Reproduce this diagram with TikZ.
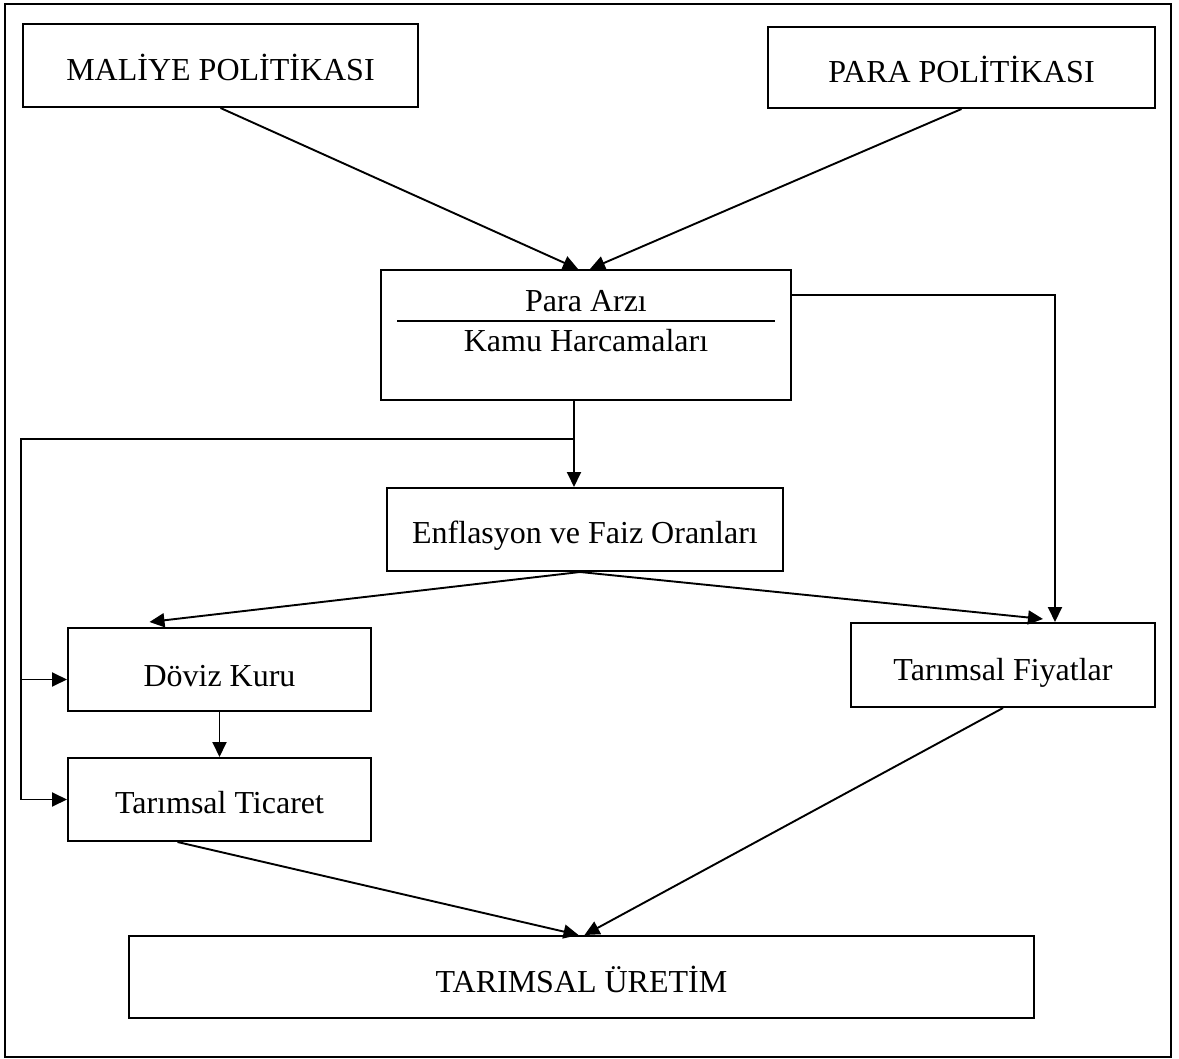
\documentclass[tikz,border=0pt]{standalone}
\usepackage{fontspec}
\setmainfont{Liberation Serif}
\usetikzlibrary{arrows.meta}
\begin{document}
\begin{tikzpicture}[x=1pt,y=-1pt,
  box/.style={draw, line width=2pt, rectangle, inner sep=0pt, text height=30pt, text depth=0pt, font=\fontsize{32}{38}\selectfont},
  lbl/.style={inner sep=0pt, font=\fontsize{32}{38}\selectfont},
  conn/.style={line width=1.9pt},
  arr/.style={conn, -{Triangle[length=15pt,width=14pt]}}]
\useasboundingbox (0,0) rectangle (1179,1059);
\draw[line width=2.5pt] (5,4) rectangle (1171,1057);
% boxes
\node[box, text height=31pt, minimum width=395pt, minimum height=83pt] (mp) at (220.5,65.5) {MAL\.IYE POL\.IT\.IKASI};
\node[box, minimum width=387pt, minimum height=81pt] (pp) at (961.5,67.5) {PARA POL\.IT\.IKASI};
\node[box, minimum width=410pt, minimum height=130pt] (pa) at (586,335) {};
\node[lbl, anchor=base] (pat) at (586,312) {Para Arzı};
\node[lbl, anchor=base] (kht) at (586,352) {Kamu Harcamaları};
\draw[line width=2pt] (397,321) -- (775,321);
\node[box, text height=27pt, minimum width=396pt, minimum height=83pt] (enf) at (585,529.5) {Enflasyon ve Faiz Oranları};
\node[box, text height=33pt, minimum width=303pt, minimum height=83pt] (dov) at (219.5,669.5) {Döviz Kuru};
\node[box, text height=27pt, minimum width=303pt, minimum height=83pt] (tic) at (219.5,799.5) {Tarımsal Ticaret};
\node[box, minimum width=304pt, minimum height=84pt] (fiy) at (1003,665) {Tarımsal Fiyatlar};
\node[box, minimum width=905pt, minimum height=82pt] (ur) at (581.5,977) {TARIMSAL ÜRET\.IM};
% connectors
\draw[arr] (mp.south) -- ([xshift=-8pt]pa.north);
\draw[arr] (pp.south) -- ([xshift=4pt]pa.north);
\draw[arr] ([yshift=40pt]pa.east) -| ([xshift=52pt]fiy.north);
\draw[arr] ([xshift=-12pt]pa.south) -- ([xshift=-11pt]enf.north);
\coordinate (br) at (574,439);
\coordinate (lc) at (21,439);
\coordinate (dovin) at ([yshift=-10pt]dov.west);
\draw[arr] (br) -- (lc) |- (tic.west);
\draw[arr] (lc |- dovin) -- (dovin);
\draw[arr] ([xshift=-5pt]enf.south) -- ([xshift=-70pt,yshift=5pt]dov.north);
\draw[arr] ([xshift=-5pt]enf.south) -- ([xshift=40pt,yshift=3pt]fiy.north);
\draw[arr] (dov.south) -- (tic.north);
\draw[arr] ([xshift=-42pt]tic.south) -- ([xshift=-3pt]ur.north);
\draw[arr] (fiy.south) -- ([xshift=3pt]ur.north);
\end{tikzpicture}
\end{document}
